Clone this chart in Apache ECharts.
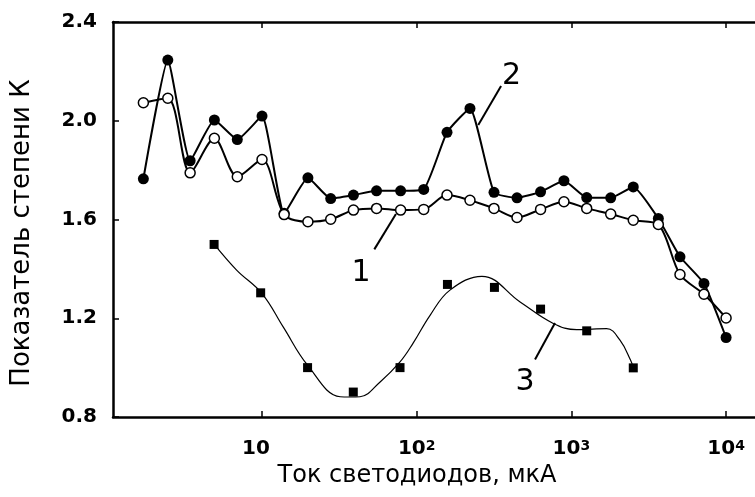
<!DOCTYPE html>
<html>
<head>
<meta charset="utf-8">
<script src="https://cdn.jsdelivr.net/npm/echarts@6/dist/echarts.min.js"></script>
<style>html,body{margin:0;padding:0;background:#fff;}#c{width:755px;height:497px;}</style>
</head>
<body>
<div id="c"></div>
<script>
// Currents (мкА) shared by curves 1 and 2
const current12 = [1.71, 2.46, 3.43, 4.92, 6.92, 10, 13.9, 19.8, 27.8, 39, 55, 78.7, 111, 157, 221, 316, 445, 632, 895, 1256, 1795, 2512, 3648, 5035, 7194, 10000];
// Curve 1 (open circles)
const k1 = [2.073, 2.091, 1.789, 1.929, 1.773, 1.843, 1.62, 1.591, 1.601, 1.638, 1.645, 1.638, 1.641, 1.699, 1.678, 1.645, 1.608, 1.641, 1.672, 1.645, 1.622, 1.597, 1.58, 1.377, 1.297, 1.201];
// Curve 2 (filled circles)
const k2 = [1.765, 2.246, 1.838, 2.003, 1.924, 2.019, 1.625, 1.769, 1.685, 1.699, 1.716, 1.716, 1.722, 1.953, 2.05, 1.71, 1.688, 1.712, 1.757, 1.689, 1.688, 1.732, 1.604, 1.449, 1.341, 1.122];
// Curve 3 (squares) measured points
const current3 = [4.9, 9.8, 19.7, 38.9, 78, 158, 318, 632, 1256, 2512];
const k3 = [1.499, 1.303, 1.0, 0.901, 1.0, 1.337, 1.325, 1.237, 1.149, 0.999];
// Curve 3 fitted line
const fit3x = [4.9, 6.85, 10, 13.7, 19.7, 32, 37, 43, 58, 78, 95, 122, 164, 264, 466, 764, 1081, 1690, 2061, 2414, 2512];
const fit3y = [1.50, 1.395, 1.30, 1.165, 1.01, 0.882, 0.881, 0.882, 0.942, 1.023, 1.10, 1.212, 1.314, 1.37, 1.266, 1.179, 1.154, 1.158, 1.111, 1.03, 1.0];
// Curve labels and leader lines (data coordinates)
const curveLabels = ['1', '2', '3'];
const labelPos = [[43.6, 1.383], [411, 2.180], [501, 0.939]];
const leaders = [[[53.2, 1.479], [73.4, 1.622]], [[250, 1.9825], [351, 2.1406]], [[582, 1.033], [783, 1.181]]];
// Axis ticks
const xTicks = [10, 100, 1000, 10000];
const yTicks = [0.8, 1.2, 1.6, 2.0, 2.4];
const xTitle = 'Ток светодиодов, мкА';
const yTitle = 'Показатель степени К';

const zip = (a, b) => a.map((v, i) => [v, b[i]]);
const sup = {2: '2', 3: '3', 4: '4'};

const chart = echarts.init(document.getElementById('c'), null, {renderer: 'canvas'});
const xAxisCommon = {
  type: 'log', logBase: 10, min: 1.088, max: 15378,
  axisLine: {show: true, lineStyle: {color: '#000', width: 2.5}},
  axisTick: {show: true, inside: true, length: 6, customValues: xTicks, lineStyle: {color: '#000', width: 1.5}},
  splitLine: {show: false}, minorTick: {show: false}
};
const series = [
  {type: 'line', name: '3fit', data: zip(fit3x, fit3y), smooth: 0.4, showSymbol: false, symbol: 'none',
   lineStyle: {color: '#000', width: 1.2}, z: 2},
  {type: 'scatter', name: '3', data: zip(current3, k3), symbol: 'rect', symbolSize: 9,
   itemStyle: {color: '#000', opacity: 1}, z: 3},
  {type: 'line', name: '2', data: zip(current12, k2), smooth: 0.15, symbol: 'circle', symbolSize: 11,
   lineStyle: {color: '#000', width: 2}, itemStyle: {color: '#000'}, z: 4},
  {type: 'line', name: '1', data: zip(current12, k1), smooth: 0.3, symbol: 'circle', symbolSize: 10,
   lineStyle: {color: '#000', width: 2}, itemStyle: {color: '#fff', borderColor: '#000', borderWidth: 1.5}, z: 5}
];
leaders.forEach((seg) => series.push({type: 'line', data: seg, symbol: 'none', lineStyle: {color: '#000', width: 2}, z: 6}));
series.push({type: 'scatter', data: labelPos.map((p, i) => ({value: p, name: curveLabels[i]})), symbolSize: 0,
  itemStyle: {opacity: 1},
  label: {show: true, position: 'inside', formatter: '{b}', color: '#000', fontFamily: 'DejaVu Sans', fontSize: 30}, z: 7});

chart.setOption({
  animation: false,
  backgroundColor: '#fff',
  grid: {left: 113, right: 0, top: 22, bottom: 80, containLabel: false},
  xAxis: [
    Object.assign({}, xAxisCommon, {
      position: 'bottom',
      name: xTitle, nameLocation: 'middle', nameGap: 34,
      nameTextStyle: {color: '#000', fontFamily: 'DejaVu Sans', fontSize: 24, padding: [0, 34, 0, 0]},
      axisLabel: {
        show: true, margin: 22, customValues: xTicks, color: '#000',
        formatter: function (v) {
          const r = Math.round(Math.log10(v));
          if (r === 1) return '{b|10}{p|}';
          return '{b|10}{s|' + sup[r] + '}';
        },
        rich: {
          b: {fontFamily: 'DejaVu Sans', fontWeight: 'bold', fontSize: 20, color: '#000'},
          s: {fontFamily: 'DejaVu Sans', fontWeight: 'bold', fontSize: 14, color: '#000', verticalAlign: 'top'},
          p: {width: 12}
        }
      }
    }),
    Object.assign({}, xAxisCommon, {position: 'top', axisLabel: {show: false}})
  ],
  yAxis: {
    type: 'value', min: yTicks[0], max: yTicks[yTicks.length - 1], interval: 0.4,
    name: yTitle, nameLocation: 'middle', nameGap: 78, nameRotate: 90,
    nameTextStyle: {color: '#000', fontFamily: 'DejaVu Sans', fontSize: 26, padding: [0, 27, 0, 0]},
    axisLine: {show: true, lineStyle: {color: '#000', width: 2.5}},
    axisTick: {show: true, inside: true, length: 6, lineStyle: {color: '#000', width: 1.5}},
    splitLine: {show: false},
    axisLabel: {color: '#000', margin: 16, fontFamily: 'DejaVu Sans', fontWeight: 'bold', fontSize: 20,
      formatter: (v) => v.toFixed(1)}
  },
  series: series
});
</script>
</body>
</html>
